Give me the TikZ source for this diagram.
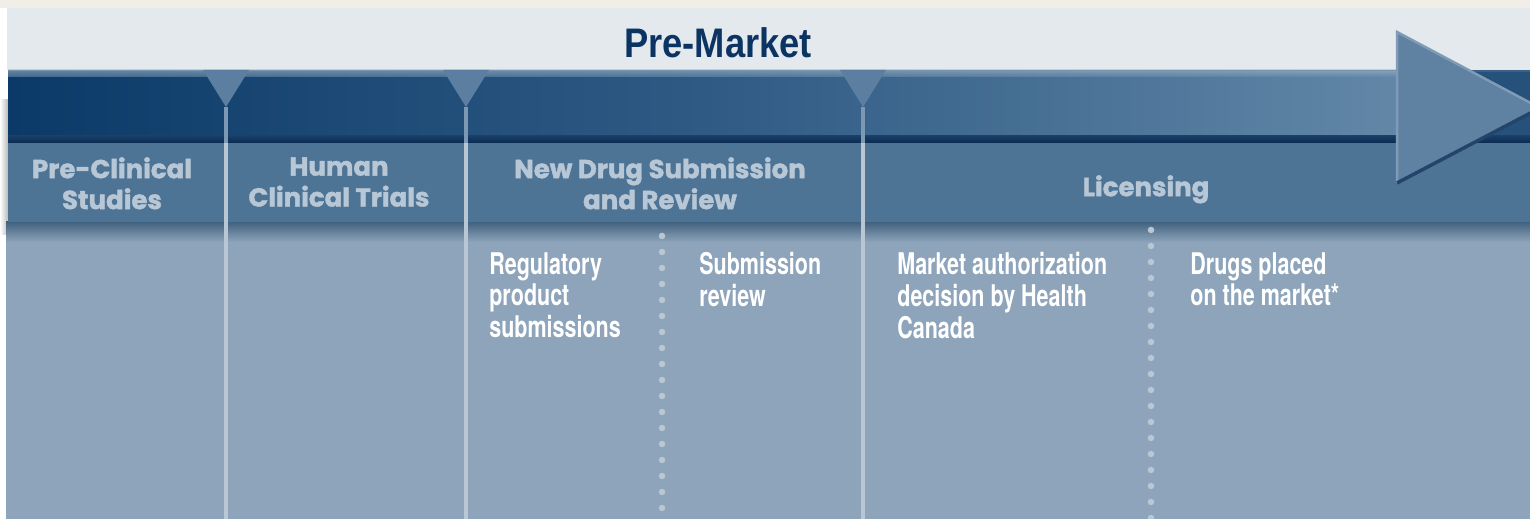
\documentclass[tikz,border=0pt]{standalone}
\usepackage{fontspec}
\setmainfont{TeX Gyre Heros}
\newfontfamily\titlefont[FakeStretch=0.88]{Liberation Sans}
\newfontfamily\phasefont{Poppins}[BoldFeatures={FakeBold=1.6}]
\newfontfamily\stepfont[FakeStretch=0.72]{TeX Gyre Heros}

\definecolor{topstrip}{HTML}{F1EDE7}
\definecolor{lightband}{HTML}{E4E9EE}
\definecolor{bandleft}{HTML}{0B3A68}
\definecolor{bandmid}{HTML}{2F5A84}
\definecolor{bandright}{HTML}{6287A7}
\definecolor{bandedge}{HTML}{0A2B52}
\definecolor{headrow}{HTML}{4D7395}
\definecolor{bodyc}{HTML}{8DA4BA}
\definecolor{phasetxt}{HTML}{B8C7D5}
\definecolor{sepc}{HTML}{B9C7D5}
\definecolor{trianglec}{HTML}{5C7EA0}
\definecolor{headc}{HTML}{5F82A3}
\definecolor{titlec}{HTML}{0B3463}

\begin{document}
\begin{tikzpicture}[x=0.02cm, y=-0.02cm,
    phase/.style={font=\phasefont\bfseries\fontsize{14.8}{17.6}\selectfont, text=phasetxt, align=center, inner sep=0pt, anchor=north},
    stepnote/.style={font=\stepfont\bfseries\fontsize{17}{18.1}\selectfont, text=white, align=left, inner sep=0pt, anchor=north west},
    sepline/.style={sepc, line width=0.07cm},
    marker/.style={fill=trianglec}]
  \useasboundingbox (0,0) rectangle (1530,519);
  \clip (0,0) rectangle (1530,519);
  % background strips
  \fill[white] (0,0) rectangle (1530,519);
  \fill[topstrip] (0,0) rectangle (1530,8);
  \fill[lightband] (7,8) rectangle (1530,70);
  % shadow on the left edge
  \shade[left color=white, right color=gray!55] (0,100) rectangle (8,235);
  % body
  \fill[bodyc] (6,222) rectangle (1530,519);
  \shade[top color=headrow!85!black, bottom color=bodyc] (6,222) rectangle (1530,242);
  % header row
  \fill[headrow] (8,143) rectangle (1530,222);
  % arrow shaft
  \fill[bandleft!80!white] (8,70) rectangle (1530,143);
  \shade[left color=bandleft, right color=bandright, middle color=bandmid] (8,72) rectangle (1400,143);
  \fill[bandleft!70!bandright] (1400,72) rectangle (1530,143);
  \shade[top color=bandright!60!white, bottom color=bandright, opacity=0.6] (8,70) rectangle (1400,77);
  \shade[top color=bandedge!60!bandmid, bottom color=bandedge] (8,136) rectangle (1530,143);
  % phase markers
  \foreach \px in {226,466,863} {
    \fill[marker] (\px-23,70) -- (\px+23,70) -- (\px,107) -- cycle;
    \draw[trianglec!80!white, line width=0.07cm] (\px,107) -- (\px,143);
    \draw[sepline] (\px,143) -- (\px,519);
  }
  % dotted separators
  \foreach \y in {236,252,...,519}
    \fill[sepc] (662,\y) circle[radius=0.065cm];
  \foreach \y in {230,246,...,519}
    \fill[sepc] (1151,\y) circle[radius=0.065cm];
  % arrow head
  \fill[headc] (1397,32) -- (1540,108) -- (1397,183) -- cycle;
  \draw[headc!80!white, line width=0.05cm] (1397,183) -- (1397,32) -- (1540,108);
  \draw[bandedge!70!headc, line width=0.07cm] (1397,183) -- (1540,108);
  % title
  \node[font=\titlefont\bfseries\fontsize{23.5}{26}\selectfont, text=titlec, inner sep=0pt, anchor=north] (title) at (718,27) {Pre-Market};
  % phases
  \node[phase] (preclin) at (112,157) {Pre-Clinical\\Studies};
  \node[phase] (human) at (339,157) {Human\\Clinical Trials};
  \node[phase] (nds) at (660,157) {New Drug Submission\\and Review};
  \node[phase] (lic) at (1146,175) {Licensing};
  % steps
  \node[stepnote] (regsub) at (489,252) {Regulatory\\product\\submissions};
  \node[stepnote] (subrev) at (699,252) {Submission\\review};
  \node[stepnote] (mauth) at (897,252) {Market authorization\\decision by Health\\Canada};
  \node[stepnote] (placed) at (1190,252) {Drugs placed\\on the market*};
\end{tikzpicture}
\end{document}
